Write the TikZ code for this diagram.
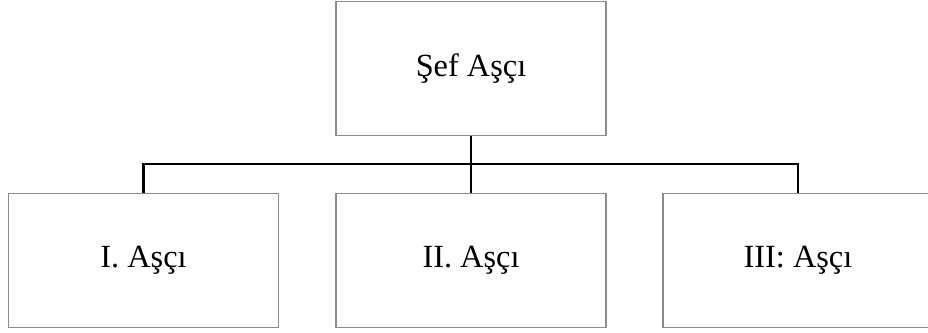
\documentclass[tikz,border=0pt]{standalone}
\usepackage{fontspec}
\setmainfont{Liberation Serif}
\usepackage{tikz}
\usetikzlibrary{positioning}
\tikzset{
  box/.style={draw=black!45, line width=0.8pt, align=center, minimum width=6.75cm, minimum height=3.36cm, inner sep=0pt, fill=white, font=\fontsize{23}{28}\selectfont},
  conn/.style={draw=black, line width=1.9pt},
}

\begin{document}
\begin{tikzpicture}[x=0.025cm, y=-0.025cm]
\useasboundingbox (0,0) rectangle (928,333);
\node[box] (chef) at (471,68.5) {Şef Aşçı};
\node[box] (cook1) at (143.5,260.5) {I. Aşçı};
\node[box] (cook2) at (471,260.5) {II. Aşçı};
\node[box] (cook3) at (798,260.5) {III: Aşçı};
\coordinate (bus) at (471,164);
\draw[conn] (chef.south) -- (bus) -- (cook2.north);
\draw[conn] (cook1.north) -- (cook1.north |- bus) -- (cook3.north |- bus) -- (cook3.north);
\end{tikzpicture}
\end{document}
